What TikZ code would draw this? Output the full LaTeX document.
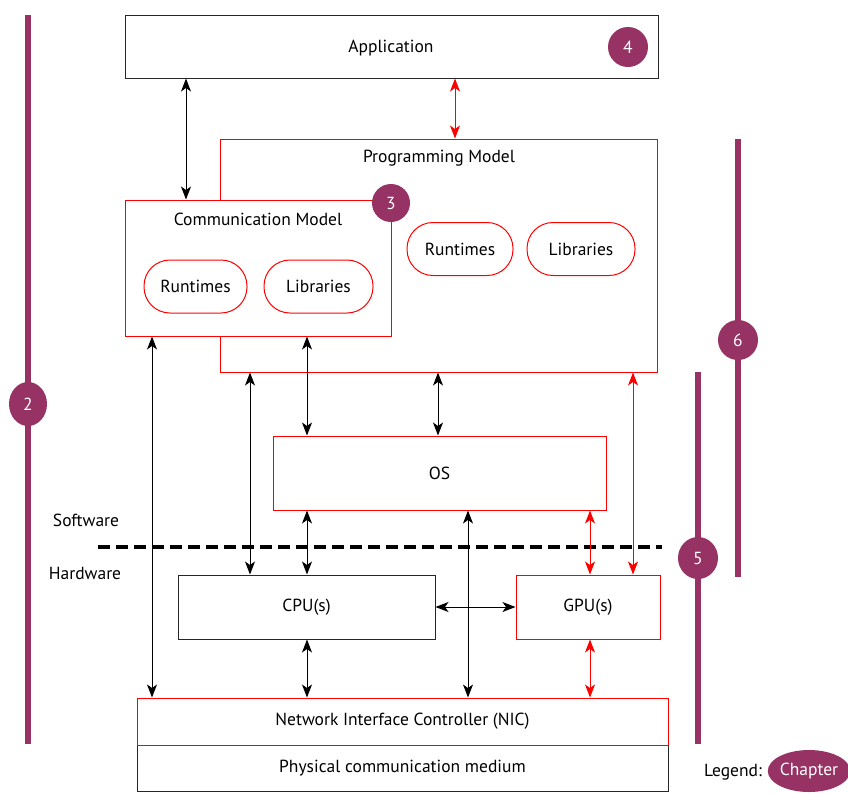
\documentclass[tikz,border=0pt]{standalone}
\usepackage{fontspec}
\setmainfont{PT Sans}
\usetikzlibrary{arrows.meta,positioning,shapes.geometric}
\definecolor{chapter}{RGB}{150,50,100}
\definecolor{boxred}{RGB}{255,0,0}
\begin{document}
\begin{tikzpicture}[x=1pt,y=-1pt,
  every node/.style={font=\fontsize{17.5}{20}\selectfont},
  blackbox/.style={draw=black!85,line width=1pt,fill=white,inner sep=0pt},
  redbox/.style={draw=boxred,line width=1pt,fill=white,inner sep=0pt},
  pill/.style={draw=boxred,line width=1pt,fill=white,rounded corners=26pt,inner sep=0pt,minimum height=53pt},
  chap/.style={circle,fill=chapter,text=white,inner sep=0pt,minimum size=40pt},
  chapbar/.style={draw=chapter,line width=6pt},
  tip/.style={Stealth[length=13pt,width=10pt,inset=3.5pt]},
  link/.style={line width=1pt,{Stealth[length=13pt,width=10pt,inset=3.5pt]}-{Stealth[length=13pt,width=10pt,inset=3.5pt]}},
  linkr/.style={link,draw=boxred,{Stealth[length=13pt,width=10pt,inset=3.5pt,fill=boxred]}-{Stealth[length=13pt,width=10pt,inset=3.5pt,fill=boxred]}},
]
\useasboundingbox (0,0) rectangle (848,793);

% chapter bars
\coordinate (b2t) at (28,15);  \coordinate (b2b) at (28,744);
\coordinate (b6t) at (738,139); \coordinate (b6b) at (738,577);
\coordinate (b5t) at (698,372); \coordinate (b5b) at (698,744);
\draw[chapbar] (b2t) -- (b2b);
\draw[chapbar] (b6t) -- (b6b);
\draw[chapbar] (b5t) -- (b5b);
\node[chap,ellipse,minimum width=38pt,minimum height=44pt] (c2) at (28,404) {2};
\node[chap,minimum size=40pt] (c6) at (738,340) {6};
\node[chap,ellipse,minimum width=40pt,minimum height=42pt] (c5) at (698,558) {5};

% software stack
\node[blackbox,minimum width=533pt,minimum height=63pt] (app) at (391.5,46.5) {};
\node (apptxt) at (391,48) {Application};
\node[chap,minimum size=40pt] (c4) at (628,47) {4};

\node[redbox,minimum width=437pt,minimum height=233pt] (pm) at (438.5,255.5) {};
\node (pmtxt) at (439,158) {Programming Model};
\node[pill,minimum width=106pt] (pmrt) at (460,249) {Runtimes};
\node[pill,minimum width=108pt] (pmlib) at (581,249) {Libraries};

\node[redbox,minimum width=266pt,minimum height=136pt] (cm) at (258,268) {};
\node (cmtxt) at (258,219) {Communication Model};
\node[pill,minimum width=103pt] (cmrt) at (195.5,286.5) {Runtimes};
\node[pill,minimum width=109pt] (cmlib) at (318.5,286.5) {Libraries};
\node[chap,minimum size=38pt] (c3) at (391,203) {3};

\node[redbox,minimum width=333pt,minimum height=74pt] (os) at (439.5,473) {OS};

% software / hardware split
\coordinate (sl) at (98,547); \coordinate (sr) at (662,547);
\draw[line width=3.2pt,dash pattern=on 12pt off 6pt] (sl) -- (sr);
\node (sw) at (86,520) {Software};
\node (hw) at (85,573) {Hardware};

% hardware
\node[blackbox,minimum width=257pt,minimum height=64pt] (cpu) at (306.5,607) {CPU(s)};
\node[redbox,minimum width=144pt,minimum height=64pt] (gpu) at (588,607) {GPU(s)};
\node[blackbox,minimum width=531pt,minimum height=46pt] (phy) at (402.5,768) {Physical communication medium};
\node[redbox,minimum width=531pt,minimum height=47pt] (nic) at (402.5,721.5) {Network Interface Controller (NIC)};

% legend
\node (leg) at (733,772) {Legend:};
\node[chap,ellipse,minimum width=80pt,minimum height=42pt] (legc) at (809,771) {Chapter};

% connectors
\draw[link] (app.south -| 186,0) -- (cm.north -| 186,0);
\draw[linkr] (app.south -| 455,0) -- (pm.north -| 455,0);
\draw[link] (cm.south -| 152,0) -- (nic.north -| 152,0);
\draw[link] (cm.south -| 307,0) -- (os.north -| 307,0);
\draw[link] (pm.south -| 250,0) -- (cpu.north -| 250,0);
\draw[link] (pm.south -| 438,0) -- (os.north -| 438,0);
\draw[linkr] (pm.south -| 633,0) -- (gpu.north -| 633,0);
\draw[link] (os.south -| 307,0) -- (cpu.north -| 307,0);
\draw[link] (os.south -| 468,0) -- (nic.north -| 468,0);
\draw[linkr] (os.south -| 590,0) -- (gpu.north -| 590,0);
\draw[link] (cpu.east) -- (gpu.west);
\draw[link] (cpu.south -| 307,0) -- (nic.north -| 307,0);
\draw[linkr] (gpu.south -| 590,0) -- (nic.north -| 590,0);
\end{tikzpicture}
\end{document}
